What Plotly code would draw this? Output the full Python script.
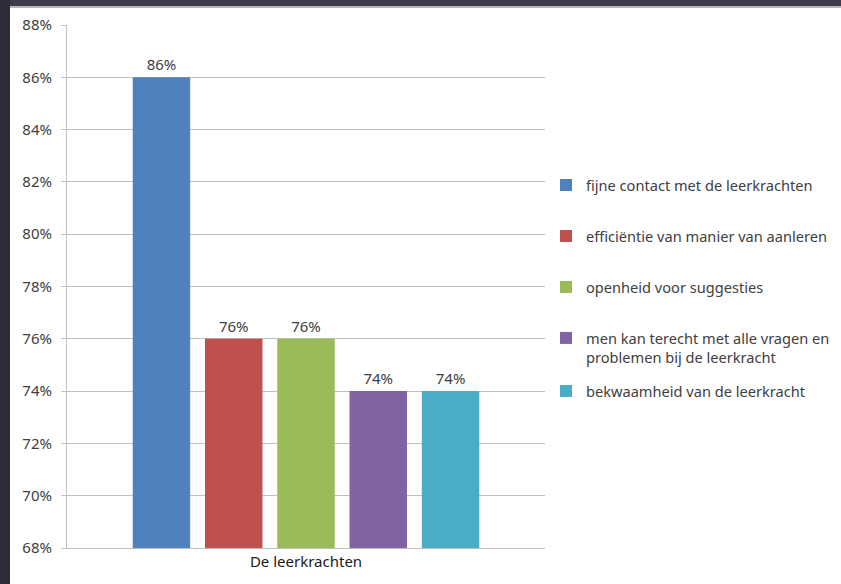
import plotly.graph_objects as go

category = ["De leerkrachten"]
series_names = [
    "fijne contact met de leerkrachten",
    "efficiëntie van manier van aanleren",
    "openheid voor suggesties",
    "men kan terecht met alle vragen en<br>problemen bij de leerkracht",
    "bekwaamheid van de leerkracht",
]
series_values = [0.86, 0.76, 0.76, 0.74, 0.74]
colors = ["#4F81BD", "#C0504D", "#9BBB59", "#8064A2", "#4BACC6"]
legend_ids = ["legend", "legend", "legend", "legend", "legend2"]

font_family = "Noto Sans, Open Sans, sans-serif"
text_color = "#404040"

fig = go.Figure()
for i, (name, val, col, lg) in enumerate(zip(series_names, series_values, colors, legend_ids)):
    fig.add_trace(go.Bar(
        x=category, y=[val], name=name, legendgroup=f"g{i}", legend=lg,
        marker=dict(color=col, line=dict(width=0)),
        text=[val], texttemplate="%{y:.0%}", textposition="outside",
        textfont=dict(size=15, color=text_color, family=font_family),
        cliponaxis=False,
    ))

W, H = 841, 584
ml, mr, mt, mb = 67, 296, 25, 36
pw, ph = W - ml - mr, H - mt - mb

def px_x(px):
    return (px - ml) / pw

def px_y(py):
    return (H - mb - py) / ph

shapes = [
    dict(type="rect", xref="paper", yref="paper", x0=px_x(-5), x1=px_x(W + 5),
         y0=px_y(6), y1=px_y(-5), fillcolor="#3d3b48", line=dict(width=0), layer="below"),
    dict(type="rect", xref="paper", yref="paper", x0=px_x(-5), x1=px_x(W + 5),
         y0=px_y(8), y1=px_y(6), fillcolor="#b8b8bc", line=dict(width=0), layer="below"),
    dict(type="rect", xref="paper", yref="paper", x0=px_x(-5), x1=px_x(10),
         y0=px_y(H + 5), y1=px_y(-5), fillcolor="#2e2c36", line=dict(width=0), layer="below"),
]

legend_style = dict(
    xanchor="left", yanchor="top",
    font=dict(size=14.6, color=text_color, family=font_family),
    tracegroupgap=29, itemwidth=30, valign="top",
    bgcolor="rgba(0,0,0,0)",
)

fig.update_layout(
    width=W, height=H,
    margin=dict(l=ml, r=mr, t=mt, b=mb, pad=0, autoexpand=False),
    paper_bgcolor="white", plot_bgcolor="white",
    barmode="group", bargap=0.244, bargroupgap=0.205,
    font=dict(family=font_family, size=15, color=text_color),
    showlegend=True,
    legend=dict(x=px_x(546), y=px_y(169), **legend_style),
    legend2=dict(x=px_x(546), y=px_y(375), **legend_style),
    shapes=shapes,
    xaxis=dict(
        showgrid=False, showline=True, linecolor="#bfbfbf", linewidth=1,
        ticks="", tickfont=dict(size=15, color="#202020"),
        fixedrange=True,
    ),
    yaxis=dict(
        range=[0.68, 0.88], dtick=0.02, tickformat=".0%",
        showgrid=True, gridcolor="#bfbfbf", gridwidth=1,
        showline=True, linecolor="#bfbfbf", linewidth=1,
        ticks="outside", ticklen=5, tickcolor="#bfbfbf",
        tickfont=dict(size=15, color=text_color),
        ticklabelstandoff=6,
        zeroline=False,
    ),
)

fig.write_html("out.html", config={"displayModeBar": False},
               post_script="document.body.style.margin='0';")
